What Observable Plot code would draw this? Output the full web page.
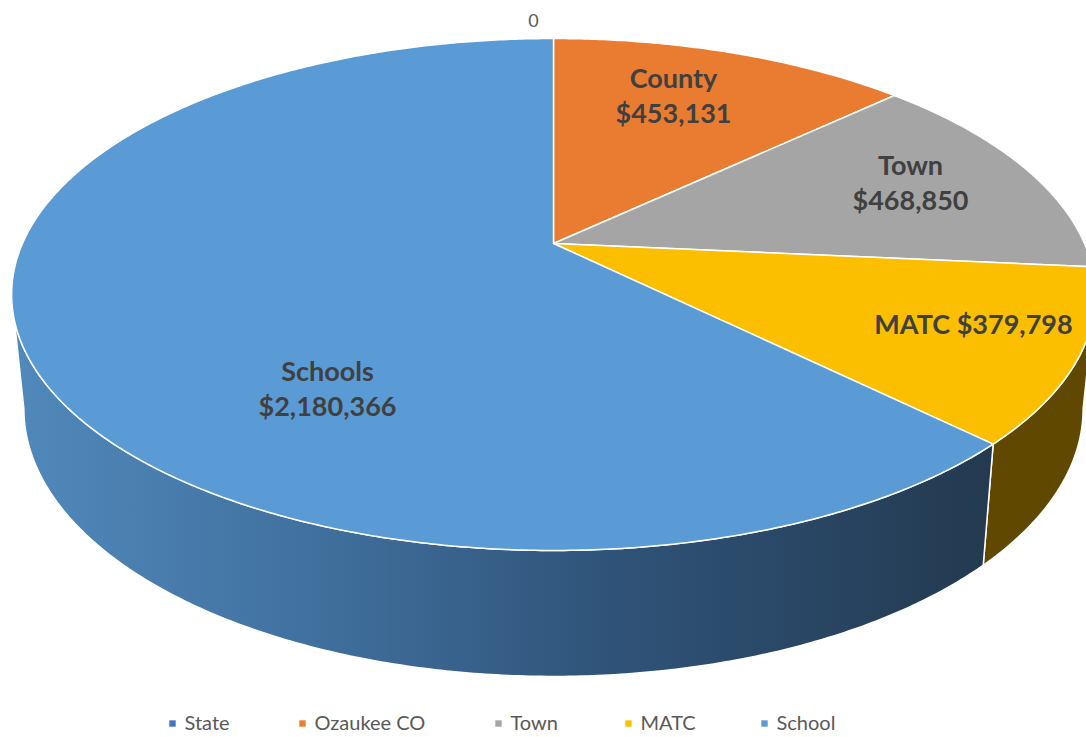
<!DOCTYPE html>
<html>
<head>
<meta charset="utf-8">
<script src="https://cdn.jsdelivr.net/npm/d3@7"></script>
<script src="https://cdn.jsdelivr.net/npm/@observablehq/plot@0.6"></script>
<style>
  html, body { margin: 0; padding: 0; background: #ffffff; overflow: hidden; }
  #chart svg { display: block; }
</style>
</head>
<body>
<div id="chart"></div>
<script>
// ---------- data ----------
const categories = ["State", "Ozaukee CO", "Town", "MATC", "School"];
const values = [0, 453131, 468850, 379798, 2180366];
const sliceLabels = ["0", "County", "Town", "MATC", "Schools"];
const topColors = ["#4472c4", "#ea7c32", "#a5a5a5", "#fbbf00", "#5b9bd5"];
const sideColors = ["#2a4675", "#8d4a1c", "#636363", "#614800", "url(#schoolSide)"];

// ---------- layout (pixels) ----------
const W = 1086, H = 737;
const cx = 553, cy = 243, A = 531, B = 245.8, p = 0.1992;   // top face (perspective ellipse)
const cyb = 355, Ab = 519, Bb = 257;                         // bottom rim
const rad = Math.PI / 180;

function topPt(t) { const s = 1 / (1 + p * Math.cos(t)); return [cx + A * Math.sin(t) * s, cy - B * Math.cos(t) * s]; }
function botPt(t) { const s = 1 / (1 + p * Math.cos(t)); return [cx + Ab * Math.sin(t) * s, cyb - Bb * Math.cos(t) * s]; }
function arc(fn, a, b) {
  const n = Math.max(2, Math.ceil(Math.abs(b - a) / (0.5 * rad)));
  return d3.range(n + 1).map(i => fn(a + (b - a) * i / n));
}

const total = d3.sum(values);
let acc = 0;
const slices = values.map((v, i) => {
  const start = acc / total * 2 * Math.PI;
  acc += v;
  const end = acc / total * 2 * Math.PI;
  return {i, name: categories[i], value: v, start, end};
});

// visible range of the outer wall (front half between silhouette tangents)
const tL = Math.acos(-p), tR = 2 * Math.PI - Math.acos(-p);

const walls = [];
const tops = [];
for (const s of slices) {
  if (s.end - s.start <= 0) continue;
  const a = Math.max(s.start, tL), b = Math.min(s.end, tR);
  if (a < b) {
    const pts = [...arc(topPt, a, b), ...arc(botPt, b, a)];
    pts.push(pts[0]);
    walls.push({fill: sideColors[s.i], pts: pts.map(([x, y]) => ({x, y}))});
  }
  const tp = [[cx, cy], ...arc(topPt, s.start, s.end), [cx, cy]];
  tops.push({fill: topColors[s.i], pts: tp.map(([x, y]) => ({x, y}))});
}

const fmt = d3.format("$,");
// label layout positions (pixels)
const labelPos = [[533, 21], [673, 94], [910, 181], [973, 322], [327, 387]];
const labels = slices.map((s, i) => {
  let text;
  if (s.value === 0) text = "0";
  else if (s.name === "MATC") text = `${sliceLabels[i]} ${fmt(s.value)}`;
  else text = `${sliceLabels[i]}\n${fmt(s.value)}`;
  return {x: labelPos[i][0], y: labelPos[i][1], text, zero: s.value === 0};
});

// legend layout
const legendX = [172, 302, 498, 628, 764];
const legendY = 723;
const legendColors = ["#4472c4", "#ed7d31", "#a5a5a5", "#ffc000", "#5b9bd5"];
const legend = categories.map((c, i) => ({x: legendX[i], y: legendY, name: c, color: legendColors[i]}));

const marks = [];
for (const w of walls) marks.push(Plot.line(w.pts, {x: "x", y: "y", fill: w.fill, stroke: "#ffffff", strokeWidth: 1.5, clip: true}));
for (const t of tops) marks.push(Plot.line(t.pts, {x: "x", y: "y", fill: t.fill, stroke: "#ffffff", strokeWidth: 1.5, clip: true}));
marks.push(Plot.text(labels.filter(d => !d.zero), {
  x: "x", y: "y", text: "text", fill: "#404040", fontSize: 27, fontWeight: "bold",
  fontFamily: "Lato", lineHeight: 1.3, textAnchor: "middle", lineAnchor: "middle"
}));
marks.push(Plot.text(labels.filter(d => d.zero), {
  x: "x", y: "y", text: "text", fill: "#595959", fontSize: 18, fontFamily: "Lato", textAnchor: "middle", lineAnchor: "middle"
}));
marks.push(Plot.dot(legend, {x: "x", y: "y", symbol: "square", r: 3.6, fill: "color", stroke: null}));
marks.push(Plot.text(legend, {x: d => d.x + 12, y: "y", text: "name", fill: "#595959", fontSize: 20, fontFamily: "Lato", textAnchor: "start", lineAnchor: "middle"}));

const chart = Plot.plot({
  width: W, height: H,
  margin: 0,
  x: {domain: [0, W], axis: null},
  y: {domain: [H, 0], axis: null},
  color: {type: "identity"},
  style: {background: "#ffffff", fontFamily: "Lato"},
  marks
});

// horizontal shading gradient for the School wall
const svg = d3.select(chart);
const g = svg.insert("defs", ":first-child").append("linearGradient")
  .attr("id", "schoolSide").attr("gradientUnits", "userSpaceOnUse")
  .attr("x1", 10).attr("x2", 990).attr("y1", 0).attr("y2", 0);
[[0, "#5189bc"], [0.3, "#41719f"], [0.6, "#30547a"], [1, "#233a50"]].forEach(([o, c]) =>
  g.append("stop").attr("offset", o).attr("stop-color", c));

document.getElementById("chart").appendChild(chart);
</script>
</body>
</html>
